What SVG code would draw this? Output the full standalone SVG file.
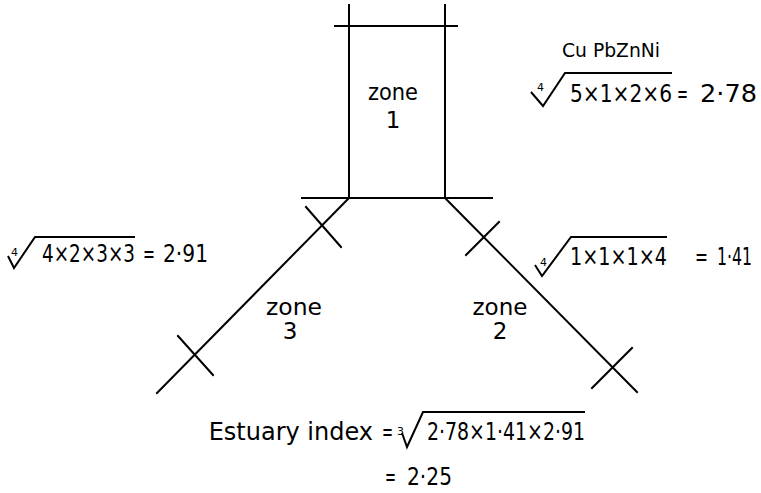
<svg xmlns="http://www.w3.org/2000/svg" width="761" height="493" viewBox="0 0 761 493">
<style>
.ln{stroke:#000;stroke-width:2;fill:none;stroke-linecap:square}
.rad{stroke:#000;stroke-width:2;fill:none;stroke-linejoin:miter}
text{font-family:"DejaVu Sans","Liberation Sans",sans-serif;fill:#000}
.z{font-size:23px;text-anchor:middle}
.f{font-size:24px}
.i{font-size:11px}
</style>
<rect width="761" height="493" fill="#fff"/>
<g id="zone1">
<path class="ln" d="M349,5 V198 M445,5 V198 M335,26 H457 M302,198 H492"/>
<text class="z" x="393" y="100" textLength="50" lengthAdjust="spacingAndGlyphs">zone</text>
<text class="z" x="393" y="128">1</text>
</g>
<g id="connectors">
<path class="ln" d="M349,198 L157,393 M445,198 L637,392"/>
</g>
<g id="zone3">
<path class="ln" d="M306,207 L341,247 M178,336 L213,375"/>
<text class="z" x="294" y="315" textLength="56" lengthAdjust="spacingAndGlyphs">zone</text>
<text class="z" x="290" y="339">3</text>
</g>
<g id="zone2">
<path class="ln" d="M499,222 L466,255 M632,348 L592,388"/>
<text class="z" x="500" y="315" textLength="55" lengthAdjust="spacingAndGlyphs">zone</text>
<text class="z" x="500" y="339">2</text>
</g>
<g id="formula1">
<text x="562" y="57" font-size="20" textLength="98" lengthAdjust="spacingAndGlyphs">Cu PbZnNi</text>
<path class="rad" d="M531,92 L543,106 L565,73 H672"/>
<text class="i" x="537" y="91">4</text>
<text class="f" x="570" y="102" textLength="102" lengthAdjust="spacingAndGlyphs">5×1×2×6</text>
<text class="f" x="677" y="102" textLength="11" lengthAdjust="spacingAndGlyphs">=</text>
<text class="f" x="700" y="102" textLength="57" lengthAdjust="spacingAndGlyphs">2·78</text>
</g>
<g id="formula3">
<path class="rad" d="M8,256 L14,268 L35,237 H135"/>
<text class="i" x="11" y="256">4</text>
<text class="f" x="42" y="262" textLength="93" lengthAdjust="spacingAndGlyphs">4×2×3×3</text>
<text class="f" x="143" y="262" textLength="12" lengthAdjust="spacingAndGlyphs">=</text>
<text class="f" x="163" y="262" textLength="45" lengthAdjust="spacingAndGlyphs">2·91</text>
</g>
<g id="formula2">
<path class="rad" d="M535,265 L542,276 L571,237 H667"/>
<text class="i" x="540" y="266">4</text>
<text class="f" x="570" y="265" textLength="97" lengthAdjust="spacingAndGlyphs">1×1×1×4</text>
<text class="f" x="695" y="265" textLength="13" lengthAdjust="spacingAndGlyphs">=</text>
<text class="f" x="717" y="265" textLength="35" lengthAdjust="spacingAndGlyphs">1·41</text>
</g>
<g id="estuary">
<text class="f" x="373" y="440" text-anchor="end">Estuary  index</text>
<text class="f" x="382" y="440" textLength="11" lengthAdjust="spacingAndGlyphs">=</text>
<text class="i" x="397" y="435" font-size="12">3</text>
<path class="rad" d="M402,433 L407,447 L423,412 H585"/>
<text class="f" x="427" y="440" textLength="158" lengthAdjust="spacingAndGlyphs">2·78×1·41×2·91</text>
<text class="f" x="385" y="485" textLength="11" lengthAdjust="spacingAndGlyphs">=</text>
<text class="f" x="407" y="485" textLength="45" lengthAdjust="spacingAndGlyphs">2·25</text>
</g>
</svg>
